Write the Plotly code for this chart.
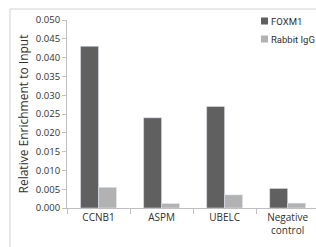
import plotly.graph_objects as go

categories = ["CCNB1", "ASPM", "UBELC", "Negative<br>control"]
foxm1 = [0.043, 0.024, 0.027, 0.0052]
igg = [0.0055, 0.0012, 0.0035, 0.0013]
yticks = [0.0, 0.005, 0.010, 0.015, 0.020, 0.025, 0.030, 0.035, 0.040, 0.045, 0.050]
series_names = ["FOXM1", "Rabbit IgG"]
series_colors = ["#606060", "#b2b2b2"]

fig = go.Figure()
fig.add_trace(go.Bar(name=series_names[0], x=categories, y=foxm1, marker_color=series_colors[0]))
fig.add_trace(go.Bar(name=series_names[1], x=categories, y=igg, marker_color=series_colors[1]))

W, H = 316, 247
ml, mr, mt, mb = 67, 0, 20, 39
pw, ph = W - ml - mr, H - mt - mb

def px_x(p):
    return (p - ml) / pw

def px_y(p):
    return (H - mb - p) / ph

shapes = [dict(type="rect", xref="paper", yref="paper",
               x0=px_x(10), x1=px_x(330), y0=px_y(260), y1=px_y(9),
               line=dict(color="#d0d0d0", width=1), layer="below")]
annotations = []
for i, (name, col) in enumerate(zip(series_names, series_colors)):
    yc = 21 + i * 18
    shapes.append(dict(type="rect", xref="paper", yref="paper",
                       x0=px_x(261), x1=px_x(268), y0=px_y(yc + 3.5), y1=px_y(yc - 3.5),
                       line=dict(width=0), fillcolor=col))
    annotations.append(dict(xref="paper", yref="paper", x=px_x(269), y=px_y(yc),
                            xanchor="left", yanchor="middle", showarrow=False,
                            text=name, font=dict(family="Roboto", size=9.5, color="#303030")))

fig.update_layout(
    width=W, height=H,
    margin=dict(l=ml, r=mr, t=mt, b=mb, autoexpand=False),
    paper_bgcolor="white", plot_bgcolor="white",
    barmode="group", bargap=0.43, bargroupgap=0,
    font=dict(family="Open Sans", size=9, color="#404040"),
    showlegend=False,
    xaxis=dict(range=[-0.5, 3.45], showline=True, linecolor="#bfbfbf", linewidth=1,
               ticks="outside", tickson="boundaries", ticklen=5, tickcolor="#bfbfbf",
               tickfont=dict(size=10, color="#303030"), showgrid=False, automargin=False),
    yaxis=dict(range=[0, 0.050], tickvals=yticks, tickformat=".3f", showline=True,
               linecolor="#bfbfbf", linewidth=1, ticks="outside", ticklen=4,
               tickcolor="#bfbfbf", showgrid=False, zeroline=False, automargin=False,
               tickfont=dict(size=9.5, color="#303030"),
               title=dict(text="Relative Enrichment to Input", font=dict(size=12, color="#303030"), standoff=4)),
    shapes=shapes,
    annotations=annotations,
)

fig.write_html("out.html", config={"displayModeBar": False},
               post_script="document.body.style.margin='0';")
